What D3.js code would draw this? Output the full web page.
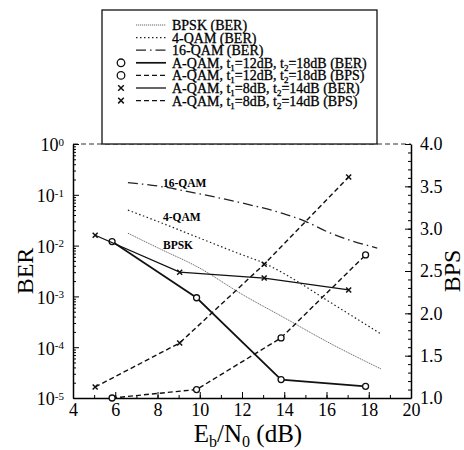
<!DOCTYPE html>
<html>
<head>
<meta charset="utf-8">
<script src="https://cdn.jsdelivr.net/npm/d3@7"></script>
<style>
  body { margin: 0; background: #fff; }
  svg { font-family: "Liberation Serif", "DejaVu Serif", serif; }
</style>
</head>
<body>
<div id="output"></div>
<script>
var w = 464;   // svg width
var h = 450;   // svg height

// reference curves (BER)
var bpskSNR = [6.6, 8, 10, 12, 14, 16, 18.6];
var bpskBER = [1.75e-2, 9.1e-3, 3.6e-3, 1.1e-3, 3.8e-4, 1.3e-4, 3.7e-5];
var qam4SNR = [6.6, 8, 10, 12, 13, 14, 16, 18.6];
var qam4BER = [5.0e-2, 3.0e-2, 1.4e-2, 6.6e-3, 4.6e-3, 2.8e-3, 8.5e-4, 1.8e-4];
var qam16SNR = [6.6, 8, 10, 12, 14, 15, 16, 18.4];
var qam16BER = [0.174, 0.149, 0.104, 0.069, 0.042, 0.030, 0.019, 0.0089];

// adaptive QAM, t1=12dB t2=18dB
var aqam12SNR = [5.85, 9.85, 13.85, 17.85];
var aqam12BER = [1.2e-2, 9.4e-4, 2.3e-5, 1.7e-5];
var aqam12BPS = [1.0, 1.1, 1.71, 2.69];
// adaptive QAM, t1=8dB t2=14dB
var aqam8SNR = [5.05, 9.05, 13.05, 17.05];
var aqam8BER = [1.6e-2, 3.0e-3, 2.3e-3, 1.34e-3];
var aqam8BPS = [1.13, 1.65, 2.58, 3.61];

var xTicks = [4, 6, 8, 10, 12, 14, 16, 18, 20];
var berTicks = [0, -1, -2, -3, -4, -5];      // exponents of 10
var bpsTicks = [1.0, 1.5, 2.0, 2.5, 3.0, 3.5, 4.0];

var legendLabels = [
  'BPSK (BER)',
  '4-QAM (BER)',
  '16-QAM (BER)',
  'A-QAM, t_1=12dB, t_2=18dB (BER)',
  'A-QAM, t_1=12dB, t_2=18dB (BPS)',
  'A-QAM, t_1=8dB, t_2=14dB (BER)',
  'A-QAM, t_1=8dB, t_2=14dB (BPS)'
];

// curve name, SNR, BER where the name sits
var curveLabels = ['16-QAM', '4-QAM', 'BPSK'];
var curveLabelSNR = [8.26, 8.26, 8.26];
var curveLabelBER = [0.142, 0.0305, 0.0086];

var svg = d3.select('#output').append('svg')
  .attr('width', w)
  .attr('height', h);

// plot box edges (top/bottom would clash with window.top)
var pLeft = 73, pRight = 411, pTop = 144, pBottom = 398;

var x = d3.scaleLinear().domain([4, 20]).range([pLeft, pRight]);
var yBer = d3.scaleLog().domain([1e-5, 1]).range([pBottom, pTop]);
var yBps = d3.scaleLinear().domain([1, 4]).range([pBottom, pTop]);

// frame: top edge is faint in the scan
svg.append('line')
  .attr('x1', pLeft).attr('x2', pRight).attr('y1', pTop).attr('y2', pTop)
  .attr('stroke', '#333').attr('stroke-width', 1).attr('stroke-dasharray', '5,3');

// bottom axis
var xMinor = d3.range(5, 20, 1);
svg.append('g').attr('transform', 'translate(0,' + pBottom + ')')
  .call(d3.axisBottom(x).tickValues(xMinor).tickSize(-3).tickFormat(''))
  .call(function(g) { g.select('.domain').remove(); });
svg.append('g').attr('transform', 'translate(0,' + pBottom + ')')
  .call(d3.axisBottom(x).tickValues(xTicks).tickSize(-6).tickSizeOuter(0).tickPadding(5))
  .call(function(g) {
    g.select('.domain').attr('stroke-width', 1.5);
    g.selectAll('text').attr('font-size', 18).attr('fill', '#000')
      .attr('font-family', '"Liberation Serif", serif');
  });

// left axis (log)
var berMinor = [];
berTicks.forEach(function(e) {
  if (e === 0) return;
  for (var k = 2; k <= 9; k++) berMinor.push(k * Math.pow(10, e));
});
svg.append('g').attr('transform', 'translate(' + pLeft + ',0)')
  .call(d3.axisLeft(yBer).tickValues(berMinor).tickSize(-3).tickFormat(''))
  .call(function(g) { g.select('.domain').remove(); });
var gl = svg.append('g').attr('transform', 'translate(' + pLeft + ',0)')
  .call(d3.axisLeft(yBer).tickValues(berTicks.map(function(e) { return Math.pow(10, e); }))
    .tickSize(-6).tickSizeOuter(0).tickFormat(''));
gl.select('.domain').attr('stroke-width', 1.5);
gl.selectAll('.tick').each(function(d) {
  var e = Math.round(Math.log10(d));
  var t = d3.select(this).append('text')
    .attr('x', -9).attr('dy', '0.38em')
    .attr('text-anchor', 'end').attr('fill', '#000').attr('font-size', 18)
    .attr('font-family', '"Liberation Serif", serif');
  t.append('tspan').text('10');
  t.append('tspan').attr('dy', '-0.5em').attr('font-size', 11)
    .text(e === 0 ? '0' : '-' + Math.abs(e));
});

// right axis (BPS)
var bpsMinor = d3.range(1.1, 4, 0.1);
svg.append('g').attr('transform', 'translate(' + pRight + ',0)')
  .call(d3.axisRight(yBps).tickValues(bpsMinor).tickSize(-3).tickFormat(''))
  .call(function(g) { g.select('.domain').remove(); });
svg.append('g').attr('transform', 'translate(' + pRight + ',0)')
  .call(d3.axisRight(yBps).tickValues(bpsTicks).tickSize(-6).tickSizeOuter(0).tickPadding(9)
    .tickFormat(d3.format('.1f')))
  .call(function(g) {
    g.select('.domain').attr('stroke-width', 1.5);
    g.selectAll('text').attr('font-size', 18).attr('fill', '#000')
      .attr('font-family', '"Liberation Serif", serif');
  });

// axis titles
svg.append('text')
  .attr('transform', 'translate(33,' + ((pTop + pBottom) / 2) + ') rotate(-90)')
  .attr('text-anchor', 'middle').attr('font-size', 24).text('BER');
svg.append('text')
  .attr('transform', 'translate(460,' + ((pTop + pBottom) / 2) + ') rotate(-90)')
  .attr('text-anchor', 'middle').attr('font-size', 24).text('BPS');
var xt = svg.append('text')
  .attr('x', 248).attr('y', 442)
  .attr('text-anchor', 'middle').attr('font-size', 25);
xt.append('tspan').text('E');
xt.append('tspan').attr('dy', 5).attr('font-size', 16).text('b');
xt.append('tspan').attr('dy', -5).text('/N');
xt.append('tspan').attr('dy', 5).attr('font-size', 16).text('0');
xt.append('tspan').attr('dy', -5).text(' (dB)');

// series styles
var series = [
  { xs: bpskSNR, ys: bpskBER, y: yBer, dash: '1.2,0.8', width: 0.9, color: '#555', marker: null },
  { xs: qam4SNR, ys: qam4BER, y: yBer, dash: '1.5,2.5', width: 1.2, color: '#222', marker: null },
  { xs: qam16SNR, ys: qam16BER, y: yBer, dash: '10,4,1.5,4', width: 1.3, color: '#222', marker: null },
  { xs: aqam12SNR, ys: aqam12BER, y: yBer, dash: null, width: 1.7, color: '#111', marker: 'o' },
  { xs: aqam12SNR, ys: aqam12BPS, y: yBps, dash: '5,3', width: 1.4, color: '#111', marker: 'o' },
  { xs: aqam8SNR, ys: aqam8BER, y: yBer, dash: null, width: 1.3, color: '#111', marker: 'x' },
  { xs: aqam8SNR, ys: aqam8BPS, y: yBps, dash: '5,3', width: 1.4, color: '#111', marker: 'x' }
];

function drawMarker(g, kind, cx, cy, r) {
  if (kind === 'o') {
    g.append('circle').attr('cx', cx).attr('cy', cy).attr('r', r)
      .attr('fill', '#fff').attr('stroke', '#111').attr('stroke-width', 1.3);
  } else if (kind === 'x') {
    g.append('path')
      .attr('d', 'M' + (cx - r) + ',' + (cy - r) + 'L' + (cx + r) + ',' + (cy + r) +
                 'M' + (cx - r) + ',' + (cy + r) + 'L' + (cx + r) + ',' + (cy - r))
      .attr('stroke', '#111').attr('stroke-width', 1.5);
  }
}

var plot = svg.append('g');
series.forEach(function(s) {
  var pts = s.xs.map(function(v, i) { return [v, s.ys[i]]; });
  var line = d3.line().x(function(d) { return x(d[0]); }).y(function(d) { return s.y(d[1]); });
  if (s.marker === null) line.curve(d3.curveMonotoneX);
  plot.append('path').datum(pts)
    .attr('d', line)
    .attr('fill', 'none')
    .attr('stroke', s.color)
    .attr('stroke-width', s.width)
    .attr('stroke-dasharray', s.dash);
  if (s.marker) {
    pts.forEach(function(d) { drawMarker(plot, s.marker, x(d[0]), s.y(d[1]), s.marker === 'o' ? 3 : 2.5); });
  }
});

// inline curve labels
svg.append('g').selectAll('text').data(curveLabels).enter().append('text')
  .attr('x', function(d, i) { return x(curveLabelSNR[i]); })
  .attr('y', function(d, i) { return yBer(curveLabelBER[i]); })
  .attr('font-size', 11.5).attr('font-weight', 'bold')
  .text(function(d) { return d; });

// legend
var lg = svg.append('g');
lg.append('rect').attr('x', 102).attr('y', 10).attr('width', 275).attr('height', 134)
  .attr('fill', '#fff').attr('stroke', '#111').attr('stroke-width', 1.3);
legendLabels.forEach(function(label, i) {
  var s = series[i];
  var yy = 25 + i * 12.6;
  lg.append('line').attr('x1', 136).attr('x2', 166).attr('y1', yy).attr('y2', yy)
    .attr('stroke', s.color).attr('stroke-width', s.width).attr('stroke-dasharray', s.dash);
  if (s.marker) drawMarker(lg, s.marker, 121, yy, s.marker === 'o' ? 3.8 : 2.8);
  var t = lg.append('text').attr('x', 172).attr('y', yy + 5).attr('font-size', 14)
    .attr('stroke', '#000').attr('stroke-width', 0.3);
  var shift = 0;   // pending baseline shift after a subscript
  label.split(/(_\d)/).forEach(function(part) {
    if (part.charAt(0) === '_') {
      t.append('tspan').attr('font-size', 9).attr('dy', 3 + shift).text(part.slice(1));
      shift = -3;
    } else if (part.length) {
      t.append('tspan').attr('dy', shift).text(part);
      shift = 0;
    }
  });
});
</script>
</body>
</html>
